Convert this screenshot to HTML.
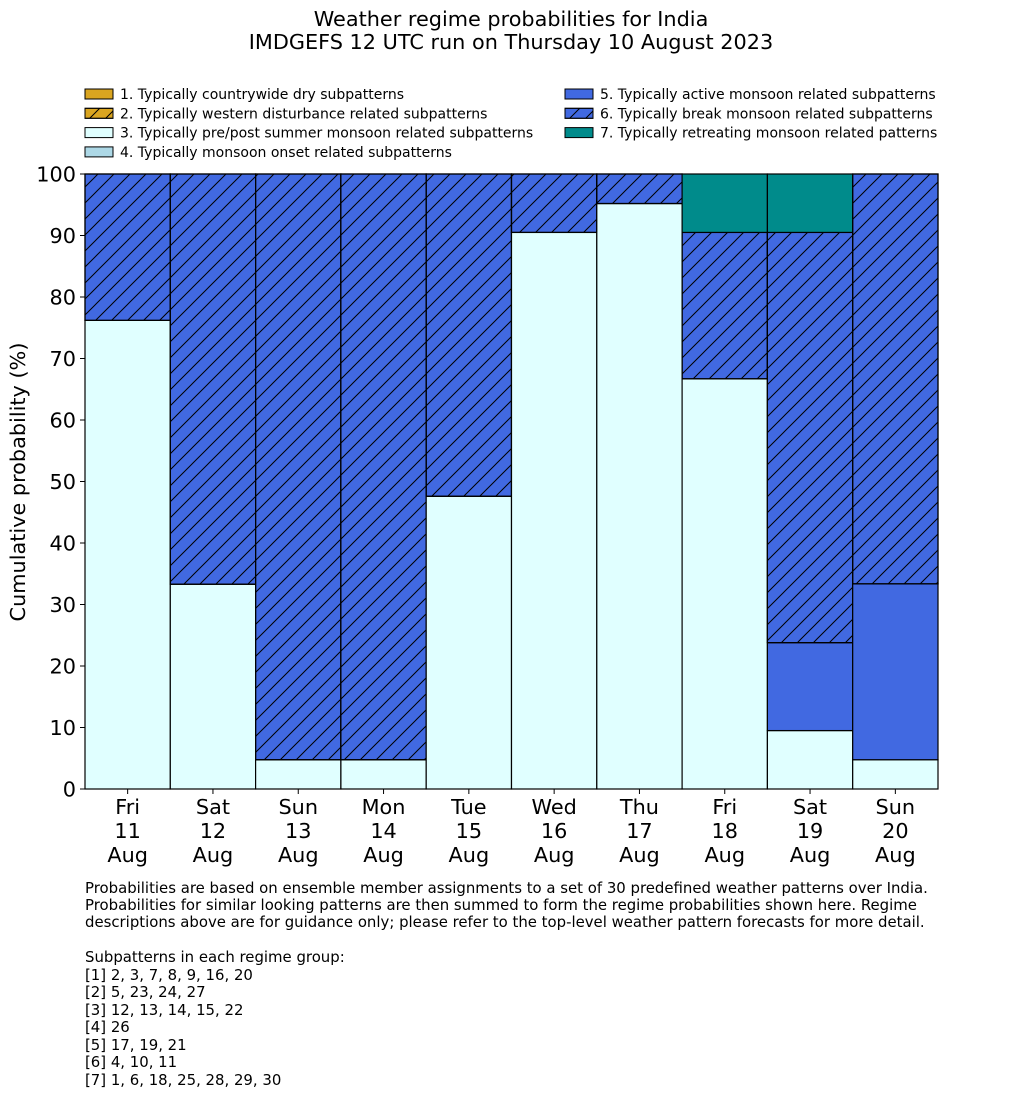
<!DOCTYPE html>
<html><head><meta charset="utf-8"><style>
body{margin:0;background:#fff;width:1033px;height:1114px;overflow:hidden;font-family:"DejaVu Sans","Liberation Sans",sans-serif;}
</style></head><body>
<svg id="chart" width="1033" height="1114" xmlns="http://www.w3.org/2000/svg" font-family="DejaVu Sans, Liberation Sans, sans-serif">
<defs>
<pattern id="hatch" patternUnits="userSpaceOnUse" width="16" height="16">
<path d="M-1,17 L17,-1 M-8,8 L8,-8 M8,24 L24,8" stroke="#000" stroke-width="1"/>
</pattern>
</defs>
<text x="511" y="26" text-anchor="middle" font-size="20.8">Weather regime probabilities for India</text>
<text x="511" y="49" text-anchor="middle" font-size="20.8">IMDGEFS 12 UTC run on Thursday 10 August 2023</text>
<g id="legend"></g>
<g id="bars"></g>
<g id="axes"></g>
<text transform="translate(25,482) rotate(-90)" text-anchor="middle" font-size="20.8">Cumulative probability (%)</text>
<g font-size="14.9">
<text x="85" y="893">Probabilities are based on ensemble member assignments to a set of 30 predefined weather patterns over India.</text>
<text x="85" y="910">Probabilities for similar looking patterns are then summed to form the regime probabilities shown here. Regime</text>
<text x="85" y="927">descriptions above are for guidance only; please refer to the top-level weather pattern forecasts for more detail.</text>
<text x="85" y="962">Subpatterns in each regime group:</text>
<text x="85" y="980">[1] 2, 3, 7, 8, 9, 16, 20</text>
<text x="85" y="997">[2] 5, 23, 24, 27</text>
<text x="85" y="1015">[3] 12, 13, 14, 15, 22</text>
<text x="85" y="1032">[4] 26</text>
<text x="85" y="1050">[5] 17, 19, 21</text>
<text x="85" y="1067">[6] 4, 10, 11</text>
<text x="85" y="1085">[7] 1, 6, 18, 25, 28, 29, 30</text>
</g>
</svg>
<script>
const days = ["Fri","Sat","Sun","Mon","Tue","Wed","Thu","Fri","Sat","Sun"];
const dates = ["11","12","13","14","15","16","17","18","19","20"];
const months = ["Aug","Aug","Aug","Aug","Aug","Aug","Aug","Aug","Aug","Aug"];
const dry = [0,0,0,0,0,0,0,0,0,0];
const western = [0,0,0,0,0,0,0,0,0,0];
const prepost = [76.2,33.3,4.76,4.76,47.6,90.5,95.2,66.7,9.5,4.76];
const onset = [0,0,0,0,0,0,0,0,0,0];
const active = [0,0,0,0,0,0,0,0,14.3,28.6];
const brk = [23.8,66.7,95.24,95.24,52.4,9.5,4.8,23.8,66.7,66.64];
const retreat = [0,0,0,0,0,0,0,9.5,9.5,0];
const yTicks = [0,10,20,30,40,50,60,70,80,90,100];
const legendLabels = ["1. Typically countrywide dry subpatterns","2. Typically western disturbance related subpatterns","3. Typically pre/post summer monsoon related subpatterns","4. Typically monsoon onset related subpatterns","5. Typically active monsoon related subpatterns","6. Typically break monsoon related subpatterns","7. Typically retreating monsoon related patterns"];

const NS="http://www.w3.org/2000/svg";
const X0=85,X1=938,Y0=789,Y1=174;
const bw=(X1-X0)/days.length;
const y=v=>Y0-(v/100)*(Y0-Y1);
const x=i=>X0+i*bw;
function mk(tag,attrs,parent){const e=document.createElementNS(NS,tag);for(const k in attrs)e.setAttribute(k,attrs[k]);parent.appendChild(e);return e;}
const series=[{v:dry,c:"#daa520",h:false,n:"dry"},{v:western,c:"#daa520",h:true,n:"western"},{v:prepost,c:"#e0ffff",h:false,n:"prepost"},{v:onset,c:"#add8e6",h:false,n:"onset"},{v:active,c:"#4169e1",h:false,n:"active"},{v:brk,c:"#4169e1",h:true,n:"break"},{v:retreat,c:"#008b8b",h:false,n:"retreat"}];
const bars=document.getElementById("bars");
for(let i=0;i<days.length;i++){
  let cum=0;
  series.forEach(s=>{
    const val=s.v[i];
    if(val>0){
      const top=Math.min(cum+val,100);
      const r=mk("rect",{x:x(i),y:y(top),width:bw,height:y(cum)-y(top),fill:s.c,stroke:"#000","stroke-width":1.2},bars);
      
      
      if(s.h){
        const h=mk("rect",{x:x(i),y:y(top),width:bw,height:y(cum)-y(top),fill:"url(#hatch)",stroke:"#000","stroke-width":1.2},bars);
        
        
      }
      cum=top;
    }
  });
}
const ax=document.getElementById("axes");
mk("line",{x1:X0,y1:Y1,x2:X0,y2:Y0,stroke:"#000","stroke-width":1},ax);
mk("line",{x1:X0,y1:Y0,x2:X1,y2:Y0,stroke:"#000","stroke-width":1},ax);
yTicks.forEach(t=>{
  mk("line",{x1:X0-5,y1:y(t),x2:X0,y2:y(t),stroke:"#000"},ax);
  const tx=mk("text",{x:X0-9,y:y(t)+7.5,"text-anchor":"end","font-size":20.8},ax);
  tx.textContent=t;
  
  
});
days.forEach((d,i)=>{
  const cx=x(i)+bw/2;
  mk("line",{x1:cx,y1:Y0,x2:cx,y2:Y0+5,stroke:"#000"},ax);
  [d,dates[i],months[i]].forEach((s,k)=>{
    const tx=mk("text",{x:cx,y:Y0+25+k*24,"text-anchor":"middle","font-size":20.8},ax);
    tx.textContent=s;
    
    
  });
});
const lg=document.getElementById("legend");
legendLabels.forEach((l,k)=>{
  const col=k<4?0:1, row=k<4?k:k-4;
  const lx=col?565:85, ly=89+row*19.3;
  const s=series[k];
  mk("rect",{x:lx,y:ly,width:28,height:10,fill:s.c,stroke:"#000"},lg);
  if(s.h)mk("rect",{x:lx,y:ly,width:28,height:10,fill:"url(#hatch)",stroke:"#000"},lg);
  const tx=mk("text",{x:lx+35,y:ly+10,"font-size":14},lg);
  tx.textContent=l;
  
  
});
</script>
</body></html>
